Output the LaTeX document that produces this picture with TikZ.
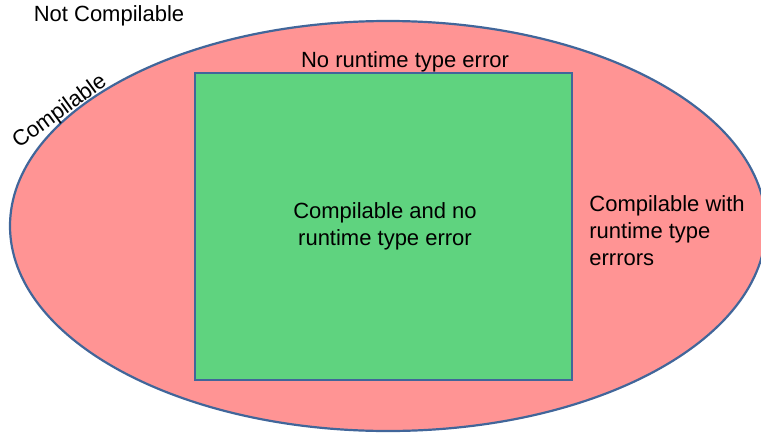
\documentclass[tikz,border=0pt]{standalone}
\usepackage{fontspec}
\setmainfont{Liberation Sans}
\definecolor{setred}{HTML}{FF9494}
\definecolor{setgreen}{HTML}{5FD37F}
\definecolor{setline}{HTML}{41669A}
\begin{document}
\begin{tikzpicture}[x=0.5pt, y=-0.5pt,
  lbl/.style={font=\fontsize{11}{13.5}\selectfont, inner sep=0pt, align=center},
  region/.style={draw=setline, line width=1.1pt}]
\useasboundingbox (0,0) rectangle (761,434);
\begin{scope}
\clip (0,0) rectangle (761,434);
% outer set: everything that compiles
\draw[region, fill=setred] (388,226) ellipse [x radius=378, y radius=205];
\end{scope}
% inner set: no runtime type error
\draw[region, fill=setgreen] (195,73) rectangle (572,380);
\node[lbl] (notcomp) at (109,16) {Not Compilable};
\node[lbl, rotate=36] (comp) at (60,112) {Compilable};
\node[lbl] (norte) at (405,62) {No runtime type error};
\node[lbl] (good) at (385,226) {Compilable and no\\runtime type error};
\node[lbl, anchor=west, align=left] (bad) at (589,231) {Compilable with\\runtime type\\errrors};
\end{tikzpicture}
\end{document}
